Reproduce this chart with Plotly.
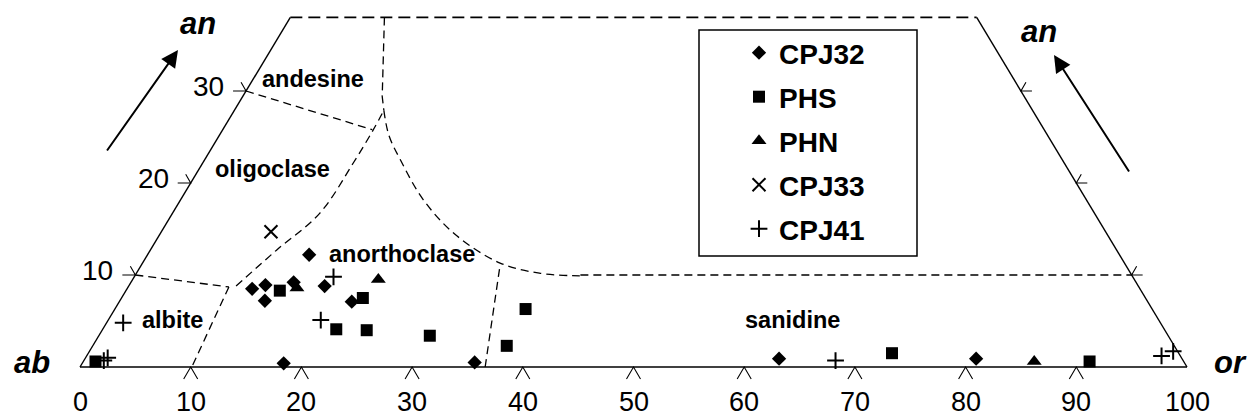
import plotly.graph_objects as go

# ---------------- data (ternary compositions: or %, an %) ----------------
cpj32_or = [11.3, 12.3, 13.1, 14.7, 14.6, 17.7, 21.0, 18.2, 35.4, 62.7, 80.5]
cpj32_an = [8.5, 8.9, 7.2, 9.2, 12.2, 8.8, 7.1, 0.4, 0.5, 0.9, 0.9]
phs_or = [1.1, 13.9, 21.8, 21.1, 23.9, 29.9, 37.1, 37.4, 72.6, 90.9]
phs_an = [0.6, 8.3, 7.5, 4.1, 4.0, 3.4, 6.3, 2.3, 1.5, 0.6]
phn_or = [15.3, 22.2, 85.9]
phn_an = [8.6, 9.5, 0.6]
cpj33_or = [9.9]
cpj33_an = [14.7]
cpj41_or = [18.0, 19.2, 1.5, 1.8, 2.0, 67.9, 97.1, 97.9]
cpj41_an = [9.8, 5.1, 4.8, 0.7, 1.0, 0.7, 1.2, 1.7]

# field boundaries (or %, an %)
alb_olig_or, alb_olig_an = [0, 9.1], [10, 8.7]
alb_anor_or, alb_anor_an = [9.1, 10.1], [8.7, 0]
olig_anor_or = [9.7, 11.4, 13.3, 13.6, 13.6, 13.5]
olig_anor_an = [8.8, 12.7, 16.7, 22.2, 25.8, 27.9]
and_olig_or, and_olig_an = [0, 13.5], [30, 25.8]
upper_or, upper_an = [8.5, 12.6, 13.5], [38, 29.4, 27.9]
solvus_or = [13.5, 15.3, 17.7, 21.9, 26.7, 32.3, 36.4, 40.2]
solvus_an = [27.9, 25.2, 22.5, 18.2, 14.4, 11.3, 10.2, 9.9]
solvus_flat_or, solvus_flat_an = [40.2, 90.0], [10.0, 10.0]
anor_san_or, anor_san_an = [36.6, 32.4], [0, 11.1]

AN_TOP = 38
bottom_ticks = [10, 20, 30, 40, 50, 60, 70, 80, 90]
bottom_labels = ["0", "10", "20", "30", "40", "50", "60", "70", "80", "90", "100"]
bottom_label_vals = [0, 10, 20, 30, 40, 50, 60, 70, 80, 90, 100]
side_ticks = [10, 20, 30]
side_labels = ["10", "20", "30"]

# ---------------- geometry ----------------
W, H = 1250, 418
X0_PX, BASE_PY = 80, 367
SX, SY = 11.07, 9.2   # px per unit
x_range = [-X0_PX / SX, (W - X0_PX) / SX]
y_range = [-(H - BASE_PY) / SY, BASE_PY / SY]

FONT = "Liberation Sans, Arial, sans-serif"


def tern(or_vals, an_vals):
    return [o + a / 2 for o, a in zip(or_vals, an_vals)], list(an_vals)


fig = go.Figure()


def add_line(or_vals, an_vals, dash=None, width=1.3, shape="linear"):
    x, y = tern(or_vals, an_vals)
    fig.add_trace(go.Scatter(x=x, y=y, mode="lines", showlegend=False, hoverinfo="skip",
                             line=dict(color="black", width=width, dash=dash, shape=shape)))


# frame
add_line([0, 0], [0, AN_TOP], width=1.4)
add_line([100 - AN_TOP, 100], [AN_TOP, 0], width=1.4)
add_line([0, 100], [0, 0], width=1.6)
add_line([0, 100 - AN_TOP], [AN_TOP, AN_TOP], dash="12px,6px", width=1.8)

# field boundaries
bd = "8px,5px"
add_line(alb_olig_or, alb_olig_an, dash=bd)
add_line(alb_anor_or, alb_anor_an, dash=bd)
add_line(olig_anor_or, olig_anor_an, dash=bd, shape="spline")
add_line(and_olig_or, and_olig_an, dash=bd)
add_line(upper_or, upper_an, dash=bd)
add_line(solvus_or, solvus_an, dash=bd, shape="spline")
add_line(solvus_flat_or, solvus_flat_an, dash=bd)
add_line(anor_san_or, anor_san_an, dash=bd)

# ticks
tx, ty = [], []
for v in bottom_ticks:
    tx += [v - 7 / SX, v, v + 7 / SX, None]
    ty += [-12 / SY, 0, -12 / SY, None]
for v in side_ticks:
    ax_ = v / 2
    tx += [ax_ - 13 / SX, ax_, ax_ - 5 / SX, None]
    ty += [v, v, v + 8.7 / SY, None]
    bx_ = 100 - v / 2
    tx += [bx_ + 11 / SX, bx_, bx_ + 5 / SX, None]
    ty += [v, v, v + 8.7 / SY, None]
fig.add_trace(go.Scatter(x=tx, y=ty, mode="lines", showlegend=False, hoverinfo="skip",
                         line=dict(color="black", width=1.1)))

# data series
series = [
    ("CPJ32", cpj32_or, cpj32_an, dict(symbol="diamond", size=11, color="black")),
    ("PHS", phs_or, phs_an, dict(symbol="square", size=12, color="black")),
    ("PHN", phn_or, phn_an, dict(symbol="triangle-up", size=13, color="black")),
    ("CPJ33", cpj33_or, cpj33_an, dict(symbol="x-thin", size=13, color="black",
                                       line=dict(color="black", width=2))),
    ("CPJ41", cpj41_or, cpj41_an, dict(symbol="cross-thin", size=12, color="black",
                                       line=dict(color="black", width=2))),
]
for name, o, a, mk in series:
    x, y = tern(o, a)
    fig.add_trace(go.Scatter(x=x, y=y, mode="markers", name=name, marker=mk,
                             legendgroup=name))

ann = []
# bottom tick labels
for v, t in zip(bottom_label_vals, bottom_labels):
    ann.append(dict(x=v, y=0, text=t, showarrow=False, xanchor="center", yanchor="middle",
                    yshift=-35, font=dict(family=FONT, size=27, color="black")))
# left tick labels
for v, t in zip(side_ticks, side_labels):
    ann.append(dict(x=v / 2, y=v, text=t, showarrow=False, xanchor="right", yanchor="middle",
                    xshift=-20, yshift=5, font=dict(family=FONT, size=28, color="black")))

# region labels
lab_font = dict(family=FONT, size=23.5, color="black", weight="bold")
regions = [("andesine", 313, 79), ("oligoclase", 272, 169), ("anorthoclase", 402, 254),
           ("albite", 172, 320), ("sanidine", 792, 320)]
for t, px, py in regions:
    ann.append(dict(x=(px - X0_PX) / SX, y=(BASE_PY - py) / SY, text=t, showarrow=False,
                    xanchor="center", yanchor="middle", font=lab_font))

# apex labels
ax_font = dict(family=FONT, size=31, color="black", weight="bold", style="italic")
for t, px, py in [("an", 198, 24), ("an", 1039, 31), ("ab", 32, 362), ("or", 1230, 362)]:
    ann.append(dict(x=px / W, y=1 - py / H, xref="paper", yref="paper", text=t,
                    showarrow=False, xanchor="center", yanchor="middle", font=ax_font))

# arrows
for (hx, hy), (tx_, ty_) in [((178, 50), (106, 152)), ((1054, 55), (1130, 173))]:
    ann.append(dict(x=(hx - X0_PX) / SX, y=(BASE_PY - hy) / SY,
                    ax=(tx_ - X0_PX) / SX, ay=(BASE_PY - ty_) / SY,
                    axref="x", ayref="y", xref="x", yref="y", text="",
                    showarrow=True, arrowhead=2, arrowsize=1.7, arrowwidth=2,
                    arrowcolor="black", standoff=0))

fig.update_layout(
    width=W, height=H, margin=dict(l=0, r=0, t=0, b=0),
    paper_bgcolor="white", plot_bgcolor="white",
    xaxis=dict(range=x_range, visible=False, fixedrange=True),
    yaxis=dict(range=y_range, visible=False, fixedrange=True),
    annotations=ann,
    shapes=[dict(type="rect", xref="paper", yref="paper",
                 x0=699 / W, x1=917 / W, y0=1 - 256 / H, y1=1 - 30 / H,
                 line=dict(color="black", width=1.5), fillcolor="rgba(0,0,0,0)")],
    legend=dict(x=739 / W, y=1 - 28 / H, xanchor="left", yanchor="top",
                bgcolor="rgba(0,0,0,0)", borderwidth=0, traceorder="grouped",
                tracegroupgap=4.6,
                font=dict(family=FONT, size=28, color="black", weight="bold")),
    showlegend=True,
)

fig.write_html("out.html")
